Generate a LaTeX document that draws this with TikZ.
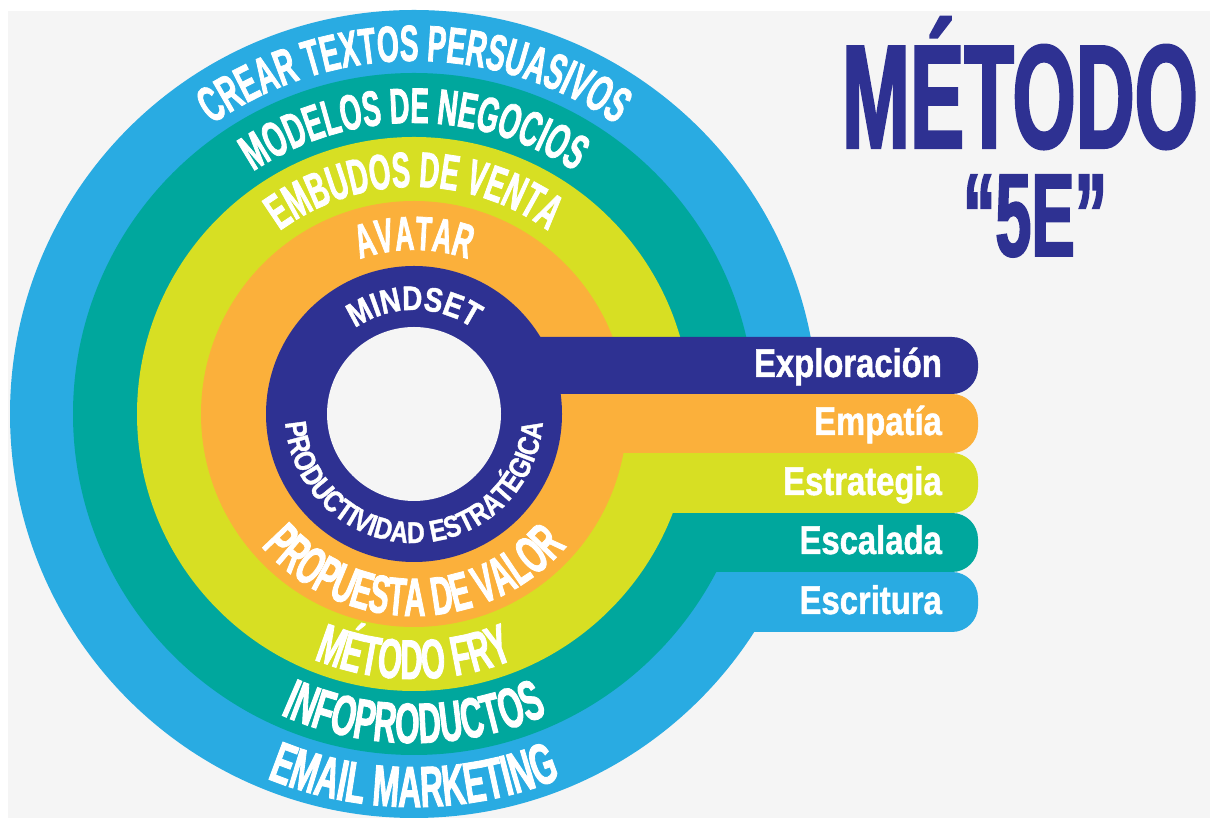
\documentclass[tikz,border=0pt]{standalone}
\usepackage{fontspec}
\usetikzlibrary{decorations.text}
\newfontfamily\ringfont{Liberation Sans}[FakeStretch=0.55,FakeBold=1.5]
\newfontfamily\barfont{Liberation Sans}[FakeStretch=0.82,FakeBold=1.2]
\newcommand\ringsize[1]{\ringfont\bfseries\fontsize{#1}{#1}\selectfont}
\newcommand\barsize[1]{\barfont\bfseries\fontsize{#1}{#1}\selectfont}
\definecolor{bggray}{HTML}{F5F5F5}
\definecolor{ringblue}{HTML}{29ABE2}
\definecolor{ringteal}{HTML}{00A79D}
\definecolor{ringlime}{HTML}{D7DF23}
\definecolor{ringorange}{HTML}{FBB03B}
\definecolor{ringnavy}{HTML}{2E3192}
\begin{document}
\begin{tikzpicture}[x=1pt,y=1pt,
  bar/.style={rounded corners=26pt},
  bar label/.style={anchor=base east, inner sep=0pt, text=white, font=\barsize{40}},
  arc text/.style={decorate, decoration={text along path, text align=center, text color=white, text={#1}}}]
\useasboundingbox (0,0) rectangle (1210,818);
\fill [white] (0,0) rectangle (1210,818);
\fill [bggray] (8,0) rectangle (1210,807);
\coordinate (c) at (414,404);
% rings and bars, outer first
\fill [ringblue] (c) circle (404);
\fill [ringblue, bar] (414,186) rectangle (978,246);
\fill [ringteal] (c) circle (341);
\fill [ringteal, bar] (414,246) rectangle (978,305);
\fill [ringlime] (c) circle (277);
\fill [ringlime, bar] (414,305) rectangle (978,365);
\fill [ringorange] (c) circle (213);
\fill [ringorange, bar] (414,365) rectangle (978,424);
\fill [ringnavy] (c) circle (148);
\fill [ringnavy, bar] (414,424) rectangle (978,481);
\fill [bggray] (c) circle (87);
% upper labels
\path [shift={(c)}, arc text={|\ringsize{51}|CREAR TEXTOS PERSUASIVOS}] (165:353) arc (165:15:353);
\path [shift={(c)}, arc text={|\ringsize{50}|MODELOS DE NEGOCIOS}] (165:291) arc (165:15:291);
\path [shift={(c)}, arc text={|\ringsize{50}|EMBUDOS DE VENTA}] (165:227) arc (165:15:227);
\path [shift={(c)}, arc text={|\ringsize{48}|AVATAR}] (165:164) arc (165:15:164);
\path [shift={(c)}, arc text={|\barsize{34}|MINDSET}] (165:104) arc (165:15:104);
% lower labels
\path [shift={(c)}, arc text={|\barsize{30}|PRODUCTIVIDAD ESTRATÉGICA}] (175:129) arc (175:365:129);
\path [shift={(c)}, arc text={|\ringsize{54}|PROPUESTA DE VALOR}] (190:202) arc (190:350:202);
\path [shift={(c)}, arc text={|\ringsize{56}|MÉTODO FRY}] (190:265) arc (190:350:265);
\path [shift={(c)}, arc text={|\ringsize{57}|INFOPRODUCTOS}] (190:329) arc (190:350:329);
\path [shift={(c)}, arc text={|\ringsize{58}|EMAIL MARKETING}] (190:393) arc (190:350:393);
% bar labels
\node [bar label] (exp) at (942,441) {Exploración};
\node [bar label] (emp) at (942,383) {Empatía};
\node [bar label] (est) at (942,323) {Estrategia};
\node [bar label] (esc) at (942,264) {Escalada};
\node [bar label] (esr) at (942,204) {Escritura};
% title
\node [anchor=base, inner sep=0pt, text=ringnavy, font=\ringsize{148}] (title) at (1020,670) {MÉTODO};
\node [anchor=base, inner sep=0pt, text=ringnavy, font=\ringsize{118}] (five) at (1035,562) {“5E”};
\end{tikzpicture}
\end{document}
